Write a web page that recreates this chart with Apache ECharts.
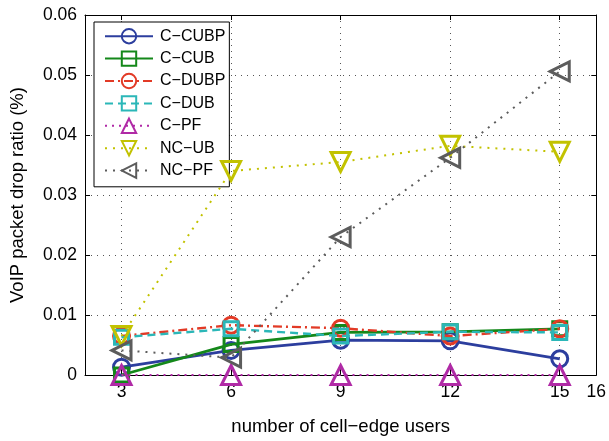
<!DOCTYPE html>
<html><head><meta charset="utf-8">
<script src="https://cdn.jsdelivr.net/npm/echarts@6/dist/echarts.min.js"></script>
<style>html,body{margin:0;padding:0;background:#fff}#c{width:609px;height:441px}</style>
</head><body><div id="c"></div>
<script>
const xValues = [3, 6, 9, 12, 15];
const xTickLabels = [3, 6, 9, 12, 15, 16];
const yTicks = [0, 0.01, 0.02, 0.03, 0.04, 0.05, 0.06];
const seriesNames = ['C\u2212CUBP', 'C\u2212CUB', 'C\u2212DUBP', 'C\u2212DUB', 'C\u2212PF', 'NC\u2212UB', 'NC\u2212PF'];
const cCUBP = [0.0013, 0.0041, 0.0058, 0.0057, 0.0027];
const cCUB  = [0.0000, 0.0051, 0.0071, 0.0072, 0.0077];
const cDUBP = [0.0065, 0.0083, 0.0078, 0.0065, 0.0077];
const cDUB  = [0.0063, 0.0077, 0.0065, 0.0072, 0.0071];
const cPF   = [0.0000, 0.0000, 0.0000, 0.0000, 0.0000];
const ncUB  = [0.0065, 0.0340, 0.0355, 0.0382, 0.0372];
const ncPF  = [0.0041, 0.0029, 0.0230, 0.0362, 0.0506];

const styles = [
  {color:'#2c3e9e', type:'solid', width:2.8, symbol:'circle', size:16, rot:0},
  {color:'#14881a', type:'solid', width:2.8, symbol:'rect', size:14, rot:0},
  {color:'#e23a26', type:[9,4,2,4], width:2.4, symbol:'circle', size:16, rot:0},
  {color:'#2bb7b8', type:[8,5], width:2.4, symbol:'rect', size:14, rot:0},
  {color:'#b02aa6', type:[2,5], width:1.8, symbol:'triangle', size:19, rot:0},
  {color:'#c2c200', type:[2,6], width:2, symbol:'triangle', size:19, rot:180},
  {color:'#5c5c5c', type:[2,6], width:2, symbol:'triangle', size:19, rot:90}
];
const allData = [cCUBP, cCUB, cDUBP, cDUB, cPF, ncUB, ncPF];

const font = 'Liberation Sans, Arial, Helvetica, sans-serif';
const chart = echarts.init(document.getElementById('c'));
const series = allData.map((d, i) => {
  const s = styles[i];
  return {
    name: seriesNames[i], type: 'line', xAxisIndex: 0, yAxisIndex: 0,
    data: d.map((v, j) => [xValues[j], v]),
    symbol: s.symbol, symbolSize: s.size, symbolRotate: s.rot,
    lineStyle: {color: s.color, width: s.width, type: s.type},
    itemStyle: {color: 'rgba(255,255,255,0)', borderColor: s.color, borderWidth: 3},
    emphasis: {disabled: true}, animation: false, clip: false, z: 2 + i
  };
});

const gridLine = {show: true, lineStyle: {color: '#555', type: [1, 5], width: 1}};
chart.setOption({
  backgroundColor: '#fff',
  animation: false,
  grid: {left: 85, right: 9, top: 15, bottom: 63},
  legend: {
    orient: 'vertical', left: 94, top: 22,
    data: seriesNames,
    itemWidth: 48, itemHeight: 18, itemGap: 6,
    padding: [6, 4, 8, 10],
    backgroundColor: '#fff', borderColor: '#000', borderWidth: 1,
    textStyle: {fontFamily: font, fontSize: 16, color: '#000', padding: [0, 0, 0, 2]},
    selectedMode: false
  },
  xAxis: [{
    type: 'value', min: 2, max: 16, position: 'bottom',
    name: 'number of cell\u2212edge users', nameLocation: 'middle', nameGap: 42,
    nameTextStyle: {fontFamily: font, fontSize: 18.5, color: '#000'},
    axisLine: {show: true, onZero: false, lineStyle: {color: '#000', width: 1}},
    axisTick: {show: true, inside: true, length: 5, customValues: xTickLabels, lineStyle: {color: '#000'}},
    axisLabel: {customValues: xTickLabels, fontFamily: font, fontSize: 17.5, color: '#000', margin: 8},
    splitLine: gridLine
  }, {
    type: 'value', min: 2, max: 16, position: 'top',
    axisLine: {show: true, onZero: false, lineStyle: {color: '#000', width: 1}},
    axisTick: {show: true, inside: true, length: 5, customValues: xTickLabels, lineStyle: {color: '#000'}},
    axisLabel: {show: false}, splitLine: {show: false}
  }],
  yAxis: [{
    type: 'value', min: 0, max: 0.06, interval: 0.01, position: 'left',
    name: 'VoIP packet drop ratio (%)', nameLocation: 'middle', nameGap: 58,
    nameTextStyle: {fontFamily: font, fontSize: 18.5, color: '#000'},
    axisLine: {show: true, onZero: false, lineStyle: {color: '#000', width: 1}},
    axisTick: {show: true, inside: true, length: 5, lineStyle: {color: '#000'}},
    axisLabel: {fontFamily: font, fontSize: 17.5, color: '#000', margin: 8,
      formatter: v => (Math.round(v * 100) / 100).toString()},
    splitLine: gridLine
  }, {
    type: 'value', min: 0, max: 0.06, interval: 0.01, position: 'right',
    axisLine: {show: true, onZero: false, lineStyle: {color: '#000', width: 1}},
    axisTick: {show: true, inside: true, length: 5, lineStyle: {color: '#000'}},
    axisLabel: {show: false}, splitLine: {show: false}
  }],
  series: series
});
</script>
</body></html>
